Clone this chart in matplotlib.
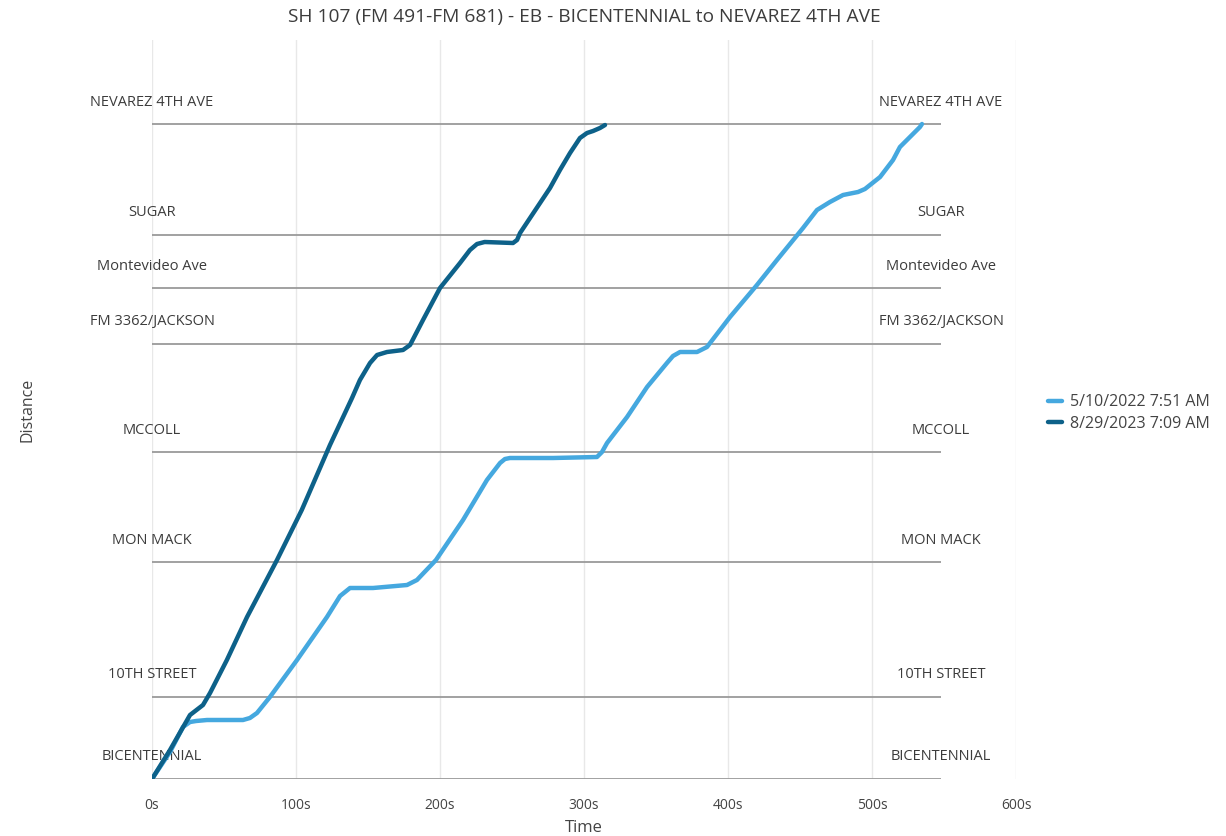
import matplotlib.pyplot as plt

plt.rcParams['font.family'] = ['Open Sans', 'DejaVu Sans']

# intersections along the corridor (distance from BICENTENNIAL, arbitrary units)
stops = ["BICENTENNIAL", "10TH STREET", "MON MACK", "MCCOLL",
         "FM 3362/JACKSON", "Montevideo Ave", "SUGAR", "NEVAREZ 4TH AVE"]
stop_dist = [0, 82, 217, 327, 435, 491, 544, 655]

# run 5/10/2022 7:51 AM
t_2022 = [0, 12.5, 21.5, 26.4, 30.6, 38.2, 63.2, 68, 72.9, 81.9, 100.7, 121.5,
          130.6, 137.5, 153.5, 177.1, 184, 197.2, 216, 232.6, 241.7, 245.1, 248.6,
          278.5, 309, 312.5, 316, 329.9, 343.8, 357.6, 361.8, 366.7, 378.5, 385.4,
          401.4, 420.1, 434, 452.1, 461.8, 470.8, 479.9, 490.3, 495.1, 505.6,
          514.6, 519.4, 533.3, 534.7]
d_2022 = [0, 27, 52, 57, 58, 59, 59, 61, 66, 82, 119, 162,
          183, 191, 191, 194, 199, 219, 259, 299, 316, 320, 321,
          321, 322, 327, 336, 362, 392, 416, 423, 427, 427, 432,
          462, 494, 519, 551, 569, 577, 584, 587, 590, 602,
          619, 632, 652, 655]

# run 8/29/2023 7:09 AM
t_2023 = [0, 12.5, 26.4, 35.4, 40.3, 52, 66, 86.8, 104, 123.6, 138.9, 144.4,
          151.4, 156.3, 163.2, 174.3, 179.2, 188.2, 200, 213.9, 220.8, 225.7,
          231, 250.7, 253.5, 255.6, 276.4, 283.3, 290.3, 297.2, 302.1, 306.3,
          311.1, 314.6]
d_2023 = [0, 29, 64, 74, 86, 119, 162, 219, 269, 334, 381, 399,
          416, 424, 427, 429, 434, 459, 491, 516, 529, 535,
          537, 536, 539, 546, 591, 609, 626, 641, 646, 648,
          651, 654]

x_ticks = [0, 100, 200, 300, 400, 500, 600]
line_end = 548

fig = plt.figure(figsize=(12.26, 8.36), dpi=100)
ax = fig.add_axes([152 / 1226, 57 / 836, 864 / 1226, 739 / 836])

ax.set_xlim(0, 600)
ax.set_ylim(0, 739)
for x in x_ticks:
    ax.axvline(x, color='#e8e8e8', lw=1, zorder=0)

ax.hlines(stop_dist, 0, line_end, color='#9a9a9a', lw=1.3, zorder=1)
for name, d in zip(stops, stop_dist):
    ax.text(0, d + 22, name, ha='center', va='center', fontsize=10.5,
            color='#3c3c3c', clip_on=False)
    ax.text(line_end, d + 22, name, ha='center', va='center', fontsize=10.5,
            color='#3c3c3c', clip_on=False)

ax.plot(t_2022, d_2022, color='#45a8df', lw=3.2, solid_capstyle='round',
        solid_joinstyle='round', label='5/10/2022 7:51 AM', zorder=3)
ax.plot(t_2023, d_2023, color='#0d6189', lw=3.2, solid_capstyle='round',
        solid_joinstyle='round', label='8/29/2023 7:09 AM', zorder=3)

for s in ax.spines.values():
    s.set_visible(False)
ax.set_yticks([])
ax.set_xticks(x_ticks)
ax.set_xticklabels([f"{x}s" for x in x_ticks])
ax.tick_params(axis='x', length=0, pad=14, labelsize=10, labelcolor='#444444')
ax.set_xlabel("Time", fontsize=12, color='#444444', labelpad=5)
ax.set_ylabel("Distance", fontsize=11.5, color='#444444', labelpad=84)

fig.text(584 / 1226, 1 - 17 / 836, "SH 107 (FM 491-FM 681) - EB - BICENTENNIAL to NEVAREZ 4TH AVE",
         ha='center', va='center', fontsize=13.8, color='#3c3c3c')

fig.legend(loc='center left', bbox_to_anchor=(1034 / 1226, 1 - 413 / 836), frameon=False,
           fontsize=11.5, handlelength=0.85, handletextpad=0.5, labelspacing=0.35,
           labelcolor='#444444')

fig.savefig('out.png', dpi=100, facecolor='white')
